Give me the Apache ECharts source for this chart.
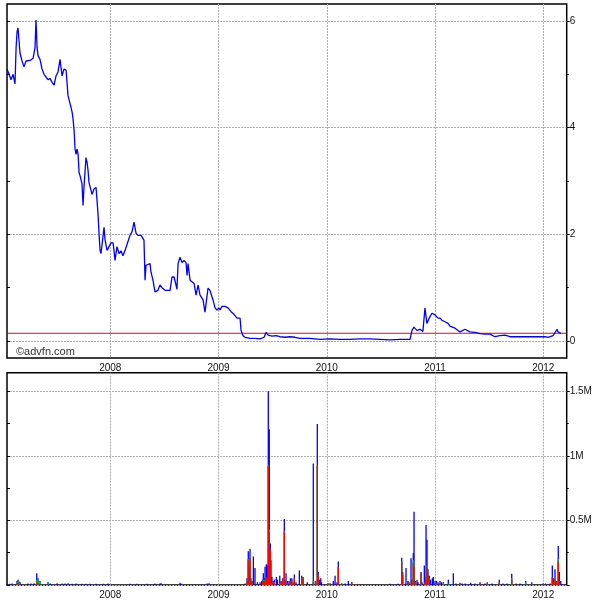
<!DOCTYPE html>
<html>
<head>
<meta charset="utf-8">
<script src="https://cdn.jsdelivr.net/npm/echarts@6/dist/echarts.min.js"></script>
<style>html,body{margin:0;padding:0;background:#fff}#c{width:609px;height:604px}</style>
</head>
<body>
<div id="c"></div>
<script>
// ---- data (x as decimal year) ----
const priceYears = [
2007.045,2007.064,2007.082,2007.101,2007.119,2007.129,2007.138,2007.147,2007.165,2007.184,
2007.202,2007.221,2007.239,2007.258,2007.286,2007.304,2007.313,2007.323,2007.332,2007.350,
2007.369,2007.387,2007.406,2007.424,2007.443,2007.461,2007.480,2007.498,2007.517,2007.535,
2007.545,2007.554,2007.572,2007.591,2007.600,2007.609,2007.628,2007.646,2007.655,2007.665,
2007.674,2007.683,2007.692,2007.702,2007.711,2007.720,2007.738,2007.748,2007.757,2007.775,
2007.785,2007.794,2007.803,2007.812,2007.831,2007.849,2007.868,2007.886,2007.896,2007.905,
2007.914,2007.923,2007.942,2007.951,2007.970,2007.988,2008.006,2008.025,2008.034,2008.043,
2008.062,2008.080,2008.099,2008.117,2008.136,2008.164,2008.182,2008.201,2008.219,2008.238,
2008.256,2008.284,2008.311,2008.321,2008.330,2008.348,2008.367,2008.376,2008.394,2008.413,
2008.440,2008.459,2008.478,2008.506,2008.533,2008.552,2008.570,2008.589,2008.607,2008.616,
2008.626,2008.644,2008.663,2008.681,2008.700,2008.709,2008.718,2008.737,2008.755,2008.774,
2008.792,2008.811,2008.829,2008.857,2008.875,2008.903,2008.921,2008.949,2008.968,2008.986,
2009.005,2009.014,2009.032,2009.060,2009.088,2009.116,2009.143,2009.171,2009.199,2009.208,
2009.226,2009.245,2009.291,2009.337,2009.384,2009.421,2009.439,2009.458,2009.495,2009.532,
2009.568,2009.614,2009.661,2009.707,2009.753,2009.846,2009.938,2010.031,2010.123,2010.215,
2010.308,2010.400,2010.492,2010.585,2010.677,2010.770,2010.788,2010.806,2010.834,2010.862,
2010.889,2010.908,2010.926,2010.945,2010.972,2011.001,2011.028,2011.047,2011.065,2011.093,
2011.121,2011.139,2011.186,2011.232,2011.278,2011.324,2011.370,2011.417,2011.463,2011.509,
2011.555,2011.601,2011.648,2011.694,2011.740,2011.786,2011.833,2011.879,2011.925,2011.972,
2012.018,2012.046,2012.064,2012.092,2012.110,2012.129,2012.138,2012.157,2012.166
];
const prices = [
5.10,5.00,4.90,5.00,4.82,5.50,5.80,5.87,5.40,5.25,
5.14,5.25,5.22,5.26,5.30,5.50,6.02,5.50,5.35,5.28,
5.10,5.00,4.95,4.90,4.92,4.85,4.80,4.97,5.05,5.28,
5.31,4.97,5.10,5.08,5.10,4.60,4.45,4.30,4.17,3.95,
3.60,3.50,3.60,3.50,3.16,3.10,2.95,2.54,2.90,3.44,
3.35,3.20,2.97,2.90,2.75,2.85,2.88,2.39,2.00,1.70,
1.64,1.80,2.13,1.90,1.70,1.77,1.84,1.84,1.70,1.51,
1.77,1.64,1.69,1.60,1.70,1.87,1.98,2.05,2.23,2.02,
1.98,1.98,1.89,1.14,1.42,1.45,1.45,1.29,1.14,0.92,
0.95,1.05,1.00,0.95,0.95,0.95,1.20,1.20,1.05,0.97,
1.45,1.57,1.47,1.51,1.47,1.23,1.45,1.14,1.14,1.08,
0.86,1.05,0.86,0.77,0.54,0.99,0.95,0.77,0.62,0.58,
0.62,0.58,0.65,0.65,0.62,0.55,0.50,0.43,0.43,0.20,
0.10,0.07,0.05,0.05,0.04,0.07,0.16,0.11,0.09,0.10,
0.08,0.07,0.08,0.07,0.05,0.05,0.03,0.04,0.03,0.03,
0.04,0.04,0.03,0.02,0.03,0.03,0.20,0.26,0.20,0.22,
0.18,0.62,0.33,0.42,0.52,0.49,0.43,0.43,0.39,0.36,
0.33,0.28,0.24,0.17,0.22,0.17,0.16,0.14,0.13,0.13,
0.08,0.10,0.11,0.08,0.08,0.08,0.08,0.08,0.08,0.08,
0.08,0.07,0.09,0.10,0.10,0.22,0.17,0.15,0.145
];
const lastPrice = 0.145;

const volYears = [
2007.073,2007.092,2007.138,2007.147,2007.156,2007.166,2007.239,2007.267,2007.295,2007.320,
2007.332,2007.350,2007.424,2007.443,2007.507,2007.554,2007.581,2007.609,2007.646,2007.683,
2007.738,2007.775,2007.812,2007.868,2007.933,2007.979,2008.182,2008.247,2008.339,2008.413,
2008.459,2008.469,2008.644,2008.653,2008.894,2008.912,2009.245,2009.263,2009.275,2009.285,
2009.291,2009.300,2009.310,2009.322,2009.337,2009.359,2009.384,2009.399,2009.407,2009.414,
2009.423,2009.430,2009.442,2009.451,2009.460,2009.469,2009.479,2009.485,2009.494,2009.504,
2009.516,2009.534,2009.545,2009.566,2009.578,2009.593,2009.608,2009.615,2009.624,2009.638,
2009.652,2009.664,2009.677,2009.689,2009.701,2009.716,2009.747,2009.769,2009.781,2009.821,
2009.876,2009.896,2009.913,2009.922,2009.933,2009.945,2009.952,2010.012,2010.031,2010.061,
2010.077,2010.095,2010.107,2010.139,2010.169,2010.200,2010.231,2010.585,2010.662,2010.693,
2010.702,2010.733,2010.751,2010.761,2010.779,2010.788,2010.800,2010.807,2010.821,2010.835,
2010.844,2010.872,2010.881,2010.902,2010.909,2010.918,2010.927,2010.936,2010.948,2010.959,
2010.976,2010.985,2011.001,2011.015,2011.029,2011.047,2011.061,2011.078,2011.124,2011.170,
2011.195,2011.232,2011.251,2011.278,2011.331,2011.371,2011.417,2011.463,2011.484,2011.528,
2011.595,2011.629,2011.666,2011.710,2011.750,2011.786,2011.839,2011.895,2011.999,2012.022,
2012.064,2012.085,2012.094,2012.110,2012.124,2012.140,2012.150,2012.163
];
// volumes in millions, stacked red (bottom) / green / blue (top)
const volRed = [
0,0,0.01,0.015,0.01,0,0,0,0,0.02,
0.01,0,0,0,0,0,0,0,0,0,
0,0,0,0,0,0,0,0,0,0,
0,0,0,0,0,0,0,0.02,0.19,0.08,
0.21,0.03,0.02,0,0,0,0,0,0.03,0.03,
0.03,0.02,0.05,0.06,0.92,0.41,0.28,0.02,0.02,0,
0.02,0,0,0,0.02,0.04,0.41,0.02,0,0.01,
0,0.03,0.04,0,0.05,0,0,0.05,0.05,0,
0.02,0.03,0.92,0.08,0,0,0,0.01,0.01,0,
0,0,0.14,0,0,0,0.02,0,0,0.18,
0.08,0,0.03,0,0.01,0.02,0.17,0.15,0.02,0,
0,0.09,0,0,0.02,0.06,0.13,0.08,0.05,0,
0,0,0,0.01,0,0.01,0,0,0,0,
0,0.01,0,0,0,0,0.01,0,0.01,0,
0.02,0,0,0.04,0,0,0,0.01,0,0,
0,0.06,0.02,0.04,0.02,0.18,0.03,0
];
const volGreen = [
0,0,0.01,0.01,0.005,0,0,0,0,0.02,
0.03,0.02,0.015,0,0,0,0,0,0,0,
0,0,0,0,0,0,0,0,0,0,
0,0,0,0,0,0,0,0,0.01,0,
0.01,0,0,0,0,0,0,0,0,0.01,
0.01,0,0,0,0.01,0.02,0,0,0,0,
0,0,0,0.01,0,0,0.005,0,0,0,
0,0,0,0,0,0,0,0,0,0,
0.01,0,0.005,0,0,0,0,0,0,0,
0,0,0,0.01,0,0,0,0,0,0.005,
0,0,0,0,0,0,0.02,0.02,0,0,
0,0,0,0,0,0,0.02,0,0,0,
0,0,0,0,0,0,0,0.01,0.01,0,
0,0,0,0,0,0,0,0,0,0,
0,0,0,0.01,0,0,0.02,0,0,0,
0,0,0,0,0,0.02,0,0
];
const volBlue = [
0.008,0.01,0.01,0.015,0.01,0.02,0.01,0.01,0.012,0.05,
0.01,0.01,0.005,0.01,0.012,0.01,0.01,0.012,0.008,0.01,
0.008,0.008,0.008,0.008,0.008,0.01,0.008,0.008,0.008,0.01,
0.01,0.012,0.015,0.01,0.01,0.012,0.01,0.03,0.06,0.06,
0.06,0.02,0.01,0.22,0.13,0.02,0.02,0.03,0.01,0.05,
0.01,0.12,0.11,0.09,0.57,0.775,0.04,0.17,0.04,0.03,
0.02,0.06,0.04,0.06,0.01,0.01,0.095,0.01,0.09,0.02,
0.03,0.02,0.01,0.02,0.03,0.02,0.11,0.02,0.01,0.02,
0.91,0,0.321,0.02,0.04,0.05,0.02,0,0,0.03,
0.07,0.02,0.04,0,0.01,0.03,0,0.008,0.008,0.025,
0.02,0.13,0,0.02,0.195,0.02,0.055,0.397,0.01,0.04,
0.02,0.01,0.02,0.15,0.02,0.403,0.20,0.04,0.02,0.04,
0.05,0.06,0.03,0.02,0.02,0.02,0.02,0.01,0.03,0.09,
0.01,0.005,0.01,0.01,0.015,0.01,0.01,0.01,0.01,0.01,
0.02,0.01,0.01,0.035,0.01,0.01,0.01,0.01,0.01,0.01,
0.01,0.09,0.03,0.08,0.01,0.10,0.07,0.03
];

const yearTicks = [2008, 2009, 2010, 2011, 2012];
const priceTickLabels = {0: '0', 2: '2', 4: '4', 6: '6'};
const volTickLabels = {0: '', 0.5: '0.5M', 1: '1M', 1.5: '1.5M'};
const watermark = '\u00a9advfn.com';

// ---- chart ----
const FONT = 'Liberation Sans, Arial, sans-serif';
const GRID_COLOR = '#b0b0b0';
const L = 7, R = 609 - 566.7;
const X0 = 2007.045, X1 = 2012.218;
const YEAR_LEFT = 110.3, YEAR_W = 433;

const zip = (xs, ys) => xs.map((x, i) => [x, ys[i]]);
const topRed = volRed.slice();
const topGreen = volRed.map((r, i) => r + volGreen[i]);
const topBlue = volRed.map((r, i) => r + volGreen[i] + volBlue[i]);

const hiddenX = (gi, min, max) => ({gridIndex: gi, type: 'value', min, max, show: false});
const hiddenY = (gi, min, max) => ({gridIndex: gi, type: 'value', min, max, show: false});

const yearAxis = (gi) => ({
  gridIndex: gi, type: 'value', min: yearTicks[0], max: yearTicks[yearTicks.length - 1], interval: 1,
  axisLine: {show: false}, axisTick: {show: false},
  axisLabel: {show: true, margin: 5, color: '#111', fontSize: 10, fontFamily: FONT,
    formatter: v => yearTicks.indexOf(v) >= 0 ? String(v) : ''},
  splitLine: {show: true, lineStyle: {color: GRID_COLOR, type: [2, 1], width: 1}}
});

const barSeries = (name, tops, color, z) => ({
  type: 'bar', name, xAxisIndex: 3, yAxisIndex: 4, barWidth: 1.3, barGap: '-100%', z,
  data: zip(volYears, tops), itemStyle: {color}
});

const option = {
  animation: false,
  backgroundColor: '#fff',
  title: {text: watermark, left: 11, top: 341,
    textStyle: {fontSize: 11, fontWeight: 'normal', color: '#333', fontFamily: FONT}},
  grid: [
    {left: L, right: R, top: 21, height: 320, show: false},
    {left: YEAR_LEFT, width: YEAR_W, top: 4, height: 354, show: false},
    {left: L, right: R, top: 4, height: 354, show: true, borderColor: '#000', borderWidth: 1.5, backgroundColor: 'transparent'},
    {left: L, right: R, top: 391.3, height: 193.5, show: false},
    {left: YEAR_LEFT, width: YEAR_W, top: 372.7, height: 212.3, show: false},
    {left: L, right: R, top: 372.7, height: 212.3, show: true, borderColor: '#000', borderWidth: 1.5, backgroundColor: 'transparent'}
  ],
  xAxis: [
    hiddenX(0, X0, X1),
    yearAxis(1),
    hiddenX(2, 0, 1),
    hiddenX(3, X0, X1),
    yearAxis(4),
    hiddenX(5, 0, 1)
  ],
  yAxis: [
    {gridIndex: 0, type: 'value', position: 'right', min: 0, max: 6, interval: 2,
      axisLine: {show: false},
      axisTick: {show: true, length: 3, lineStyle: {color: '#000'}},
      minorTick: {show: true, splitNumber: 2, length: 2, lineStyle: {color: '#000'}},
      axisLabel: {margin: 3, color: '#111', fontSize: 10, fontFamily: FONT,
        formatter: v => priceTickLabels[v] !== undefined ? priceTickLabels[v] : ''},
      splitLine: {show: true, lineStyle: {color: GRID_COLOR, type: [2, 1], width: 1}}},
    {gridIndex: 0, type: 'value', position: 'left', min: 0, max: 6, interval: 1,
      axisLine: {show: false}, axisLabel: {show: false}, splitLine: {show: false},
      axisTick: {show: true, inside: true, length: 3, lineStyle: {color: '#000'}}},
    hiddenY(1, 0, 1),
    hiddenY(2, 0, 1),
    {gridIndex: 3, type: 'value', position: 'right', min: 0, max: 1.5, interval: 0.5,
      axisLine: {show: false},
      axisTick: {show: true, length: 3, lineStyle: {color: '#000'}},
      minorTick: {show: true, splitNumber: 2, length: 2, lineStyle: {color: '#000'}},
      axisLabel: {margin: 3, color: '#111', fontSize: 10, fontFamily: FONT,
        formatter: v => volTickLabels[v] !== undefined ? volTickLabels[v] : ''},
      splitLine: {show: true, lineStyle: {color: GRID_COLOR, type: [2, 1], width: 1}}},
    {gridIndex: 3, type: 'value', position: 'left', min: 0, max: 1.5, interval: 0.25,
      axisLine: {show: false}, axisLabel: {show: false}, splitLine: {show: false},
      axisTick: {show: true, inside: true, length: 3, lineStyle: {color: '#000'}}},
    hiddenY(4, 0, 1),
    hiddenY(5, 0, 1)
  ],
  series: [
    {type: 'line', name: 'last', xAxisIndex: 0, yAxisIndex: 0,
      data: [[X0, lastPrice], [X1, lastPrice]],
      showSymbol: false, z: 4, silent: true,
      lineStyle: {color: '#ff0000', width: 1}, itemStyle: {color: '#ff0000'}},
    {type: 'line', name: 'price', xAxisIndex: 0, yAxisIndex: 0, data: zip(priceYears, prices),
      showSymbol: false, clip: false, z: 5,
      lineStyle: {color: '#0000ff', width: 1.3}, itemStyle: {color: '#0000ff'}},
    barSeries('blue', topBlue, '#0000ff', 2),
    barSeries('green', topGreen, '#00c000', 3),
    barSeries('red', topRed, '#ff0000', 4)
  ]
};

const chart = echarts.init(document.getElementById('c'), null, {renderer: 'canvas'});
chart.setOption(option);
</script>
</body>
</html>
